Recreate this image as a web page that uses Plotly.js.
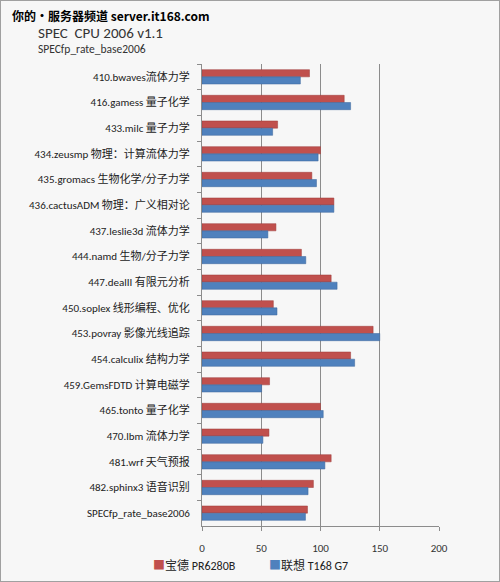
<!DOCTYPE html>
<html><head><meta charset="utf-8">
<script src="https://cdn.plot.ly/plotly-3.0.1.min.js"></script>
<style>
html,body{margin:0;padding:0;background:#fff;}
#chart{width:498px;height:580px;border:1px solid #a0a0a0;}
</style></head>
<body><div id="chart"></div>
<script>
const categories = [
  "410.bwaves流体力学",
  "416.gamess 量子化学",
  "433.milc 量子力学",
  "434.zeusmp 物理：计算流体力学",
  "435.gromacs 生物化学/分子力学",
  "436.cactusADM 物理：广义相对论",
  "437.leslie3d 流体力学",
  "444.namd 生物/分子力学",
  "447.dealII 有限元分析",
  "450.soplex 线形编程、优化",
  "453.povray 影像光线追踪",
  "454.calculix 结构力学",
  "459.GemsFDTD 计算电磁学",
  "465.tonto 量子化学",
  "470.lbm 流体力学",
  "481.wrf 天气预报",
  "482.sphinx3 语音识别",
  "SPECfp_rate_base2006"
];
const seriesNames = ["宝德 PR6280B", "联想 T168 G7"];
const seriesColors = ["#C0504D", "#4F81BD"];
const baode = [90.7, 120, 63.8, 100, 92.7, 111.3, 62.4, 83.9, 109, 60.2, 144.4, 125.4, 57, 100, 56.5, 109, 94, 89];
const lenovo = [83, 125.4, 59.6, 98, 96.6, 111.3, 55.6, 87.6, 114, 63.3, 150, 128.8, 50.3, 102.3, 51.4, 103.7, 89.5, 87.3];
const xTicks = [0, 50, 100, 150, 200];

const font = "Calibri, 'Noto Sans CJK SC', 'Noto Sans', sans-serif";
const traces = [
  {type:"bar", orientation:"h", name:seriesNames[0], y:categories, x:baode,
   marker:{color:seriesColors[0], line:{color:"#9d3b38", width:0.5}}},
  {type:"bar", orientation:"h", name:seriesNames[1], y:categories, x:lenovo,
   marker:{color:seriesColors[1], line:{color:"#3b659a", width:0.5}}}
];
const PW = 237, PH = 462;
const legendAnn = seriesNames.map((n, i) => ({
  text:"<span style='color:" + seriesColors[i] + "'>■</span>" + n,
  xref:"paper", yref:"paper", x:(i === 0 ? 150 - 201 : 266 - 201) / PW, y:-(565 - 526) / PH,
  xanchor:"left", yanchor:"middle", showarrow:false,
  font:{size:12, color:"#222", family:font}
}));
const layout = {
  width:498, height:580,
  paper_bgcolor:"#f7f7f7", plot_bgcolor:"#f7f7f7",
  margin:{l:201, r:60, t:63, b:55},
  barmode:"group", bargap:0.44, bargroupgap:0,
  font:{family:font, size:11, color:"#333"},
  xaxis:{range:[0,200], tickvals:xTicks, showgrid:true, gridcolor:"#8c8c8c", gridwidth:1,
    showline:true, linecolor:"#8c8c8c", ticks:"outside", ticklen:4, tickcolor:"#8c8c8c",
    tickfont:{size:11, color:"#333"}, zeroline:false, fixedrange:true, ticklabelstandoff:8},
  yaxis:{type:"category", autorange:"reversed", showline:true, linecolor:"#8c8c8c",
    ticks:"outside", ticklen:4, tickcolor:"#8c8c8c", tickson:"boundaries", showgrid:false,
    tickfont:{size:11, color:"#222"}, fixedrange:true, ticklabelstandoff:9},
  showlegend:false,
  annotations:[
    {text:"<b>你的•服务器频道 server.it168.com</b>", xref:"paper", yref:"paper", x:-(201-9)/PW, y:1+(63-4)/PH,
     xanchor:"left", yanchor:"top", showarrow:false, font:{size:12, color:"#000", family:"'Noto Sans CJK SC', sans-serif"}},
    {text:"SPEC  CPU 2006 v1.1", xref:"paper", yref:"paper", x:-(201-35)/PW, y:1+(63-21)/PH,
     xanchor:"left", yanchor:"top", showarrow:false, font:{size:15, color:"#333", family:font}},
    {text:"SPECfp_rate_base2006", xref:"paper", yref:"paper", x:-(201-35)/PW, y:1+(63-39)/PH,
     xanchor:"left", yanchor:"top", showarrow:false, font:{size:11.5, color:"#333", family:font}}
  ].concat(legendAnn)
};
Plotly.newPlot("chart", traces, layout, {displayModeBar:false, staticPlot:true});
</script></body></html>
